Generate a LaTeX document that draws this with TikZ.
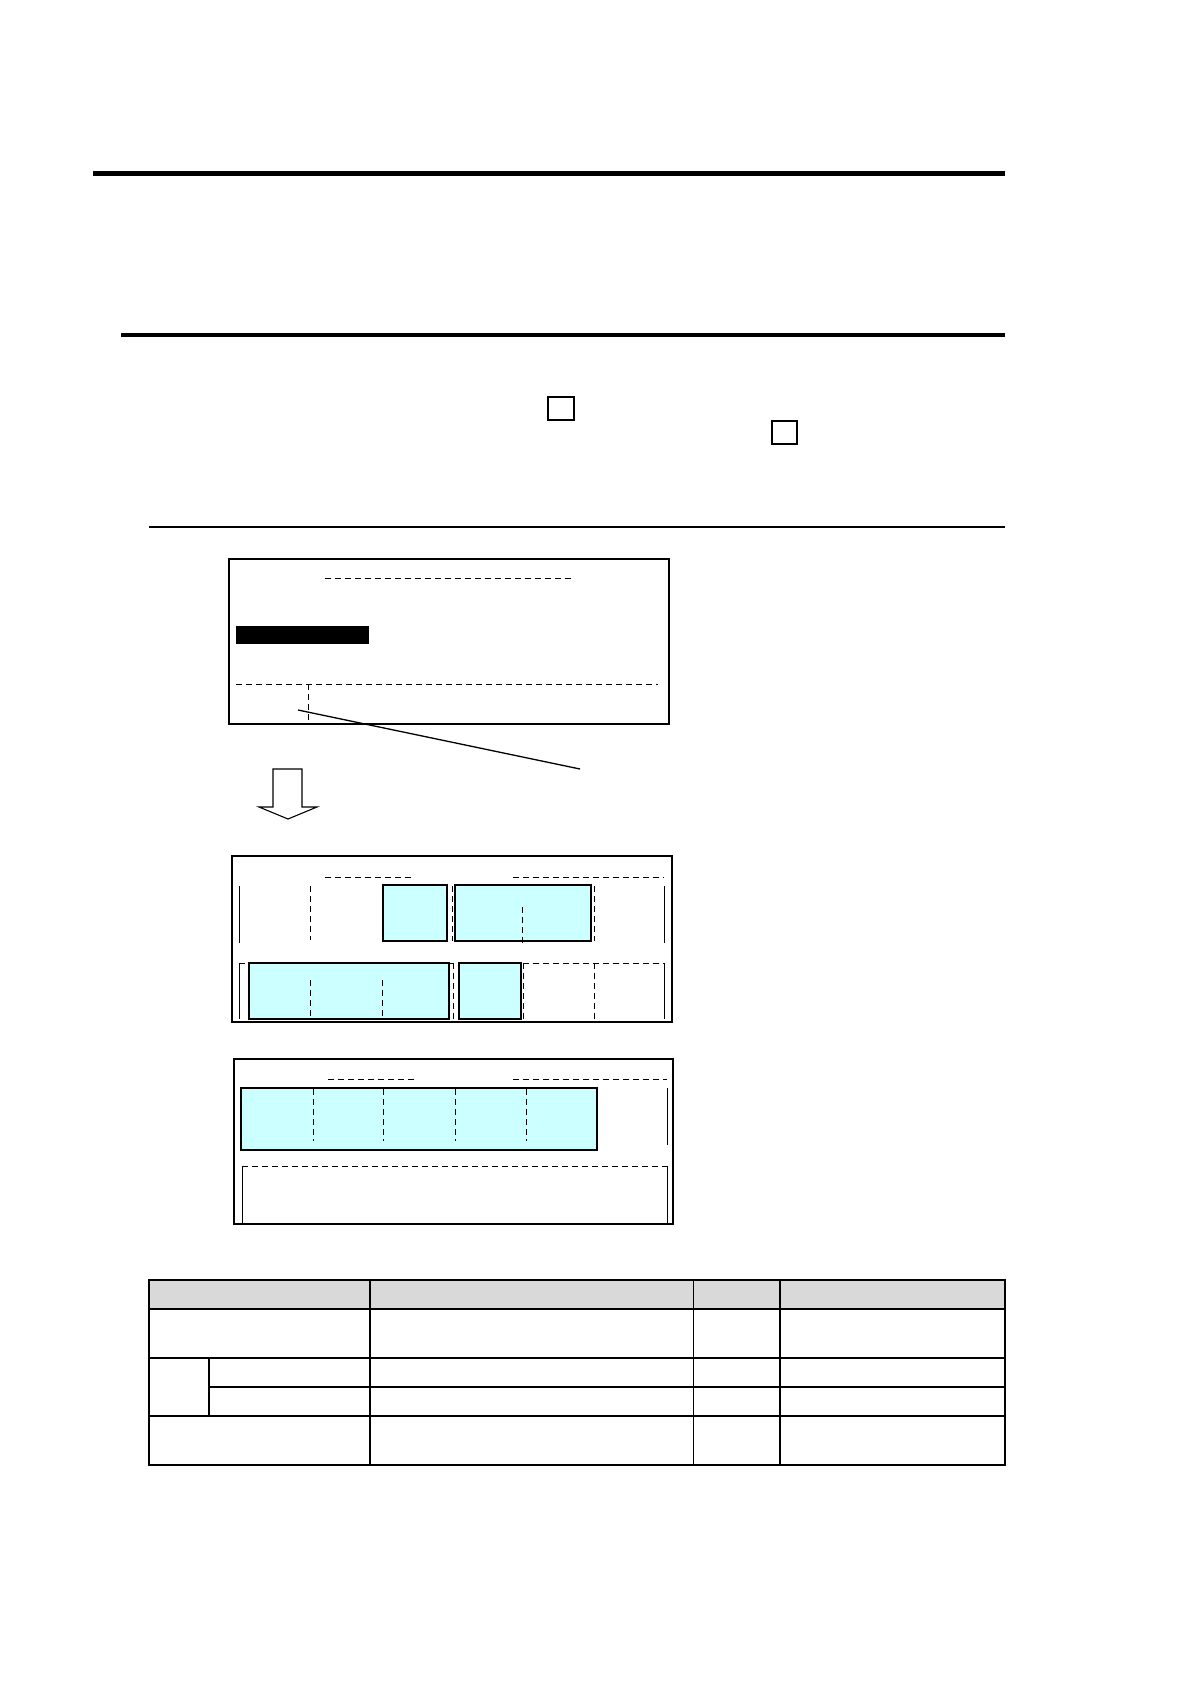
\documentclass[tikz,border=0pt]{standalone}
\usetikzlibrary{positioning}
\definecolor{cyanfill}{HTML}{CCFFFF}
\definecolor{headgray}{HTML}{D9D9D9}
\tikzset{
  frame/.style={draw=black, line width=2.2pt},
  cbox/.style={draw=black, fill=cyanfill, line width=1.3pt},
  dsh/.style={draw=black, dashed, dash pattern=on 6pt off 4pt, line width=0.9pt},
  sol/.style={draw=black, line width=0.9pt},
  smallbox/.style={draw=black, line width=1.2pt},
  tline/.style={draw=black, line width=1.2pt}
}
\begin{document}
\begin{tikzpicture}[x=1pt,y=-1pt]
\useasboundingbox (0,0) rectangle (1190,1684);
% heading rules
\draw[line width=5pt] (93,173) -- (1005,173);
\draw[line width=3.2pt] (121,335) -- (1005,335);
\draw[line width=2pt] (149,527) -- (1005,527);
% small boxes
\draw[smallbox] (548,397) rectangle (574,420);
\draw[smallbox] (772,421) rectangle (797,444);

% frame 1
\draw[frame] (229,559) rectangle (669,724);
\draw[dsh] (325,578) -- (574,578);
\fill[black] (236,626) rectangle (369,644);
\draw[dsh] (236,684) -- (658,684);
\draw[dsh] (308,684) -- (308,720);
\coordinate (c1) at (298,710);
\coordinate (c2) at (580,769);
\draw[line width=1.3pt] (c1) -- (c2);

% block arrow
\draw[line width=1.1pt, fill=white] (273,769) -- (302,769) -- (302,807) -- (317,807) -- (288,819) -- (259,807) -- (273,807) -- cycle;

% frame 2
\draw[frame] (232,856) rectangle (672,1022);
\draw[dsh] (325,877) -- (413,877);
\draw[dsh] (513,877) -- (664,877);
\draw[sol] (239,886) -- (239,943);
\draw[dsh] (310,886) -- (310,940);
\draw[dsh] (382,886) -- (382,941);
\draw[cbox] (383,885) rectangle (447,941);
\draw[dsh] (452,886) -- (452,941);
\draw[cbox] (455,885) rectangle (591,941);
\draw[dsh] (522,907) -- (522,943);
\draw[dsh] (594,886) -- (594,941);
\draw[sol] (664,886) -- (664,943);
% row 2
\draw[sol] (239,963) -- (239,1019);
\draw[dsh] (239,963) -- (249,963);
\draw[cbox] (249,963) rectangle (449,1019);
\draw[dsh] (310,980) -- (310,1019);
\draw[dsh] (382,980) -- (382,1019);
\draw[dsh] (449,963) -- (453,963);
\draw[dsh] (453,963) -- (453,1019);
\draw[cbox] (459,963) rectangle (521,1019);
\draw[dsh] (523,963) -- (523,1019);
\draw[dsh] (523,963) -- (664,963);
\draw[dsh] (594,963) -- (594,1019);
\draw[sol] (664,963) -- (664,1019);

% frame 3
\draw[frame] (234,1059) rectangle (673,1224);
\draw[dsh] (328,1079) -- (415,1079);
\draw[dsh] (513,1079) -- (667,1079);
\draw[cbox] (241,1088) rectangle (597,1150);
\draw[dsh] (313,1089) -- (313,1141);
\draw[dsh] (383,1089) -- (383,1141);
\draw[dsh] (455,1089) -- (455,1141);
\draw[dsh] (526,1089) -- (526,1141);
\draw[dsh, line width=1.6pt] (597,1089) -- (597,1141);
\draw[sol] (667,1088) -- (667,1145);
\draw[dsh] (242,1166) -- (667,1166);
\draw[sol] (242,1166) -- (242,1223);
\draw[sol] (667,1166) -- (667,1223);

% table
\fill[headgray] (149,1280) rectangle (1005,1309);
\draw[tline] (149,1280) rectangle (1005,1465);
\draw[tline] (149,1309) -- (1005,1309);
\draw[tline] (149,1358) -- (1005,1358);
\draw[tline] (209,1387) -- (1005,1387);
\draw[tline] (149,1416) -- (1005,1416);
\draw[tline] (370,1280) -- (370,1465);
\draw[line width=0.7pt] (693,1280) -- (693,1465);
\draw[tline] (780,1280) -- (780,1465);
\draw[tline] (209,1358) -- (209,1416);
\end{tikzpicture}
\end{document}
